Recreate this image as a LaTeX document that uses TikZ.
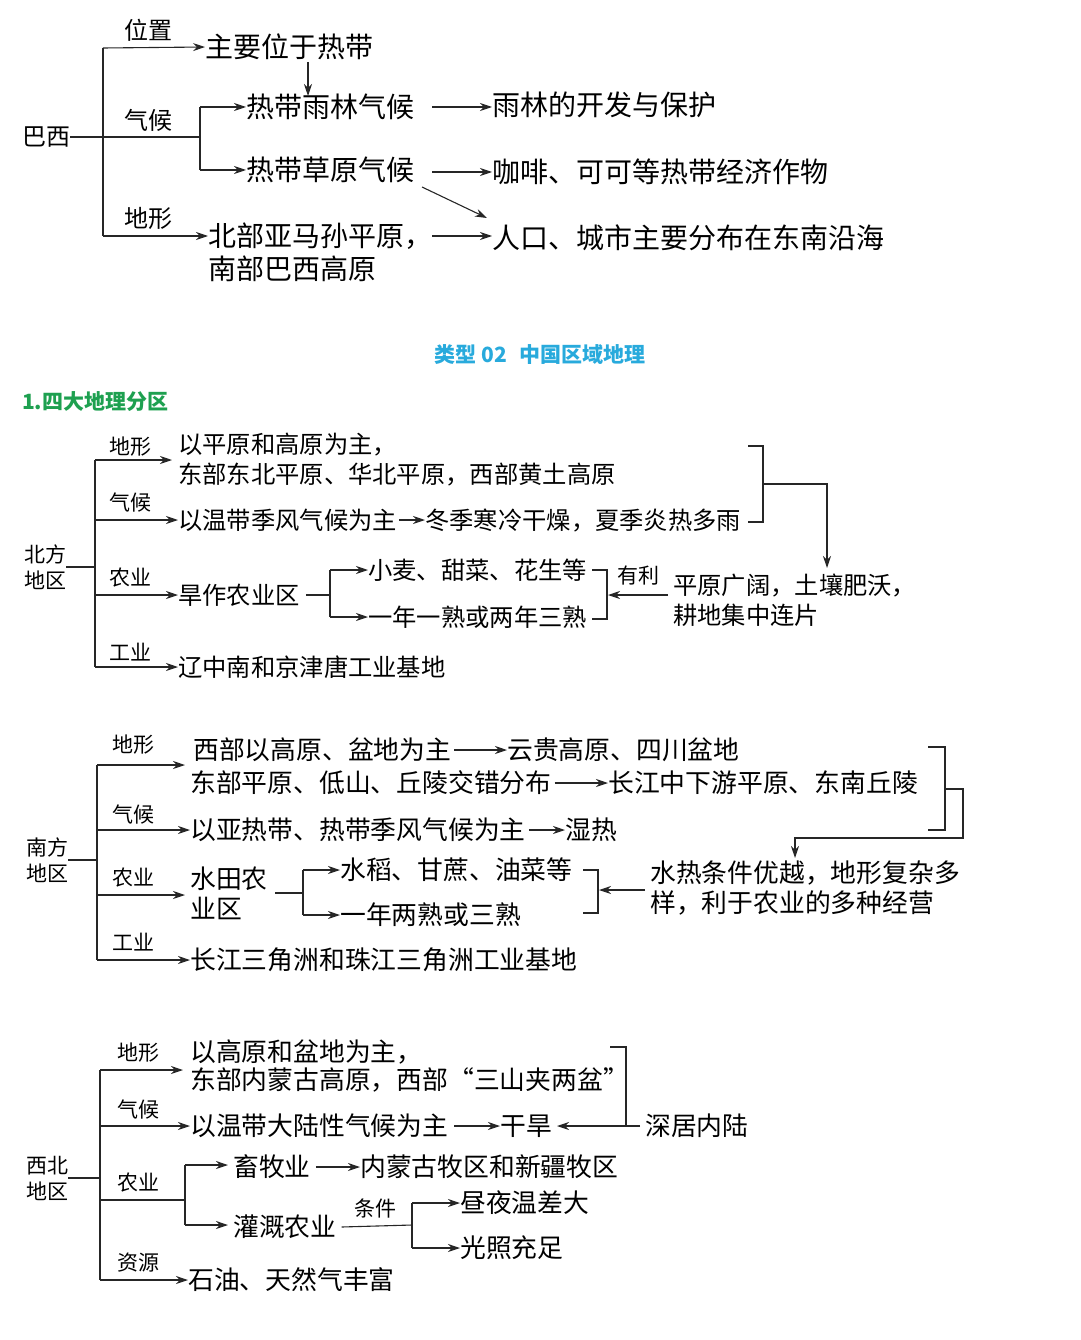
\documentclass[tikz,border=0pt]{standalone}
\usepackage{fontspec}
\setmainfont{Noto Sans CJK SC}
\usetikzlibrary{arrows.meta}
\definecolor{tcyan}{RGB}{40,170,220}
\definecolor{tgreen}{RGB}{30,160,80}
\begin{document}
\begin{tikzpicture}[x=1pt,y=-1pt,
  ln/.style={line width=1.1pt,black!85},
  ar/.style={ln,-{Stealth[length=12pt,width=8pt]}},
  A/.style={anchor=west,inner sep=0pt,font=\fontsize{28}{32}\selectfont},
  B/.style={anchor=west,inner sep=0pt,font=\fontsize{24.3}{29}\selectfont},
  C/.style={anchor=west,inner sep=0pt,font=\fontsize{25.8}{30}\selectfont},
  L/.style={inner sep=0pt,font=\fontsize{21}{26}\selectfont},
  LA/.style={inner sep=0pt,font=\fontsize{24}{28}\selectfont}]
\useasboundingbox (0,0) rectangle (1080,1340);
% ===== Brazil
\node[LA,anchor=west] (bx) at (22,137) {巴西};
\draw[ln] (bx.east) -- (103,137);
\draw[ln] (103,48) -- (103,236);
\node[LA] at (148,30) {位置};
\node[LA] at (148,120) {气候};
\node[LA] at (148,218) {地形};
\node[A] (b1) at (205,47) {主要位于热带};
\node[A] (b2) at (246,107) {热带雨林气候};
\node[A] (b3) at (246,170) {热带草原气候};
\node[A] (b4) at (208,236) {北部亚马孙平原，};
\node[A] (b5) at (208,269) {南部巴西高原};
\node[A] (b6) at (492,105) {雨林的开发与保护};
\node[A] (b7) at (492,172) {咖啡、可可等热带经济作物};
\node[A] (b8) at (492,238) {人口、城市主要分布在东南沿海};
\draw[ar] (103,48) -- (b1.west);
\draw[ln] (103,137) -- (200,137);
\draw[ln] (200,107) -- (200,170);
\draw[ar] (200,107) -- (b2.west);
\draw[ar] (200,170) -- (b3.west);
\draw[ar] (103,236) -- (b4.west);
\draw[ar] (308,62) -- (308,96);
\draw[ar] (432,107) -- (b6.west|-0,107);
\draw[ar] (432,172) -- (b7.west);
\draw[ar] (422,187) -- (487,218);
\draw[ar] (432,236) -- (b8.west|-0,236);
% ===== title
\node[inner sep=0pt,font=\fontsize{21}{26}\selectfont\bfseries,text=tcyan] (tt) at (540,355) {类型 02\hspace{0.6em}中国区域地理};
\node[anchor=west,inner sep=0pt,font=\fontsize{21}{26}\selectfont\bfseries,text=tgreen] (t1) at (22,402) {1.四大地理分区};
% ===== North
\node[L,align=left] (n0) at (45,567) {北方\\地区};
\draw[ln] (n0.east) -- (95,567);
\draw[ln] (95,460) -- (95,667);
\node[L] at (130,447) {地形};
\node[L] at (130,503) {气候};
\node[L] at (130,578) {农业};
\node[L] at (130,652) {工业};
\node[B] (n1) at (178,445) {以平原和高原为主，};
\node[B] (n2) at (178,475) {东部东北平原、华北平原，西部黄土高原};
\node[B] (n3) at (178,520) {以温带季风气候为主};
\node[B] (n4) at (425,520) {冬季寒冷干燥，夏季炎热多雨};
\node[B] (n5) at (178,595) {旱作农业区};
\node[B] (n6) at (368,570) {小麦、甜菜、花生等};
\node[B] (n7) at (368,617) {一年一熟或两年三熟};
\node[B] (n8) at (673,585) {平原广阔，土壤肥沃，};
\node[B] (n9) at (673,615) {耕地集中连片};
\node[L] (nyl) at (638,576) {有利};
\node[B] (n10) at (178,667) {辽中南和京津唐工业基地};
\draw[ar] (95,460) -- (172,460);
\draw[ar] (95,520) -- (n3.west);
\draw[ar] (95,595) -- (n5.west);
\draw[ar] (95,667) -- (n10.west);
\draw[ar] (n3.east) ++(2,0) -- (n4.west);
\draw[ln] (748,446) -- (763,446) -- (763,522) -- (748,522);
\draw[ar] (763,484) -- (827,484) -- (827,568);
\draw[ln] (n5.east) ++(6,0) -- (330,595);
\draw[ln] (330,570) -- (330,617);
\draw[ar] (330,570) -- (n6.west);
\draw[ar] (330,617) -- (n7.west);
\draw[ln] (592,570) -- (607,570) -- (607,619) -- (592,619);
\draw[ar] (668,595) -- (608,595);
% ===== South
\node[L,align=left] (s0) at (47,860) {南方\\地区};
\draw[ln] (s0.east) -- (97,860);
\draw[ln] (97,765) -- (97,960);
\node[L] at (133,745) {地形};
\node[L] at (133,815) {气候};
\node[L] at (133,878) {农业};
\node[L] at (133,942) {工业};
\node[C] (s1) at (193,750) {西部以高原、盆地为主};
\node[C] (s2) at (507,750) {云贵高原、四川盆地};
\node[C] (s3) at (190,783) {东部平原、低山、丘陵交错分布};
\node[C] (s4) at (608,783) {长江中下游平原、东南丘陵};
\node[C] (s5) at (190,830) {以亚热带、热带季风气候为主};
\node[C] (s6) at (565,830) {湿热};
\node[C,align=left] (s7) at (190,893) {水田农\\业区};
\node[C] (s8) at (340,870) {水稻、甘蔗、油菜等};
\node[C] (s9) at (340,915) {一年两熟或三熟};
\node[C] (s10) at (650,873) {水热条件优越，地形复杂多};
\node[C] (s11) at (650,903) {样，利于农业的多种经营};
\node[C] (s12) at (190,960) {长江三角洲和珠江三角洲工业基地};
\draw[ar] (97,765) -- (185,765);
\draw[ar] (97,830) -- (s5.west);
\draw[ar] (97,895) -- (185,895);
\draw[ar] (97,960) -- (s12.west);
\draw[ar] (s1.east) ++(3,0) -- (s2.west);
\draw[ar] (s3.east) ++(3,0) -- (s4.west);
\draw[ar] (s5.east) ++(3,0) -- (s6.west);
\draw[ln] (928,747) -- (945,747) -- (945,830) -- (928,830);
\draw[ar] (945,789) -- (963,789) -- (963,838) -- (795,838) -- (795,858);
\draw[ln] (275,893) -- (303,893);
\draw[ln] (303,870) -- (303,915);
\draw[ar] (303,870) -- (s8.west);
\draw[ar] (303,915) -- (s9.west);
\draw[ln] (583,870) -- (598,870) -- (598,913) -- (583,913);
\draw[ar] (645,890) -- (599,890);
% ===== Northwest
\node[L,align=left] (w0) at (47,1178) {西北\\地区};
\draw[ln] (w0.east) -- (100,1178);
\draw[ln] (100,1070) -- (100,1280);
\node[L] at (138,1053) {地形};
\node[L] at (138,1110) {气候};
\node[L] at (138,1183) {农业};
\node[L] at (138,1263) {资源};
\node[C] (w1) at (190,1052) {以高原和盆地为主，};
\node[C] (w2) at (190,1080) {东部内蒙古高原，西部“三山夹两盆”};
\node[C] (w3) at (190,1126) {以温带大陆性气候为主};
\node[C] (w4) at (500,1126) {干旱};
\node[C] (w5) at (645,1126) {深居内陆};
\node[C] (w6) at (233,1167) {畜牧业};
\node[C] (w7) at (360,1167) {内蒙古牧区和新疆牧区};
\node[C] (w8) at (233,1227) {灌溉农业};
\node[L] (w9) at (375,1208) {条件};
\node[C] (w10) at (460,1203) {昼夜温差大};
\node[C] (w11) at (460,1248) {光照充足};
\node[C] (w12) at (188,1280) {石油、天然气丰富};
\draw[ar] (100,1070) -- (183,1070);
\draw[ar] (100,1126) -- (w3.west);
\draw[ln] (100,1200) -- (185,1200);
\draw[ln] (185,1165) -- (185,1225);
\draw[ar] (185,1165) -- (228,1165);
\draw[ar] (185,1225) -- (228,1225);
\draw[ar] (100,1280) -- (w12.west);
\draw[ar] (w3.east) ++(6,0) -- (w4.west);
\draw[ln] (610,1047) -- (626,1047) -- (626,1126);
\draw[ar] (640,1126) -- (557,1126);
\draw[ar] (w6.east) ++(5,0) -- (w7.west);
\draw[ln] (w8.east) ++(5,0) -- (412,1225);
\draw[ln] (412,1203) -- (412,1248);
\draw[ar] (412,1203) -- (w10.west);
\draw[ar] (412,1248) -- (w11.west);
\end{tikzpicture}
\end{document}
